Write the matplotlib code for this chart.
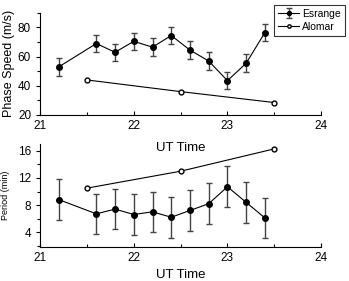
import matplotlib.pyplot as plt
from matplotlib.ticker import MultipleLocator

plt.rcParams['font.family'] = ['Liberation Sans', 'DejaVu Sans']

esr_t = [21.2, 21.6, 21.8, 22.0, 22.2, 22.4, 22.6, 22.8, 23.0, 23.2, 23.4]
esr_speed = [53, 69, 63, 70.5, 66.5, 74.5, 64.5, 57, 43.5, 55.5, 76.5]
esr_speed_err = [6, 6, 6, 6, 6, 6, 6, 6, 6, 6, 6]
esr_period = [8.8, 6.7, 7.4, 6.6, 7.0, 6.2, 7.2, 8.2, 10.7, 8.4, 6.1]
esr_period_err = [3, 3, 3, 3, 3, 3, 3, 3, 3, 3, 3]

alo_t = [21.5, 22.5, 23.5]
alo_speed = [44, 36, 28.5]
alo_period = [10.5, 13.0, 16.3]

fig = plt.figure(figsize=(3.49, 2.81), dpi=100)
ax1 = fig.add_axes([0.115, 0.591, 0.805, 0.363])
ax2 = fig.add_axes([0.115, 0.121, 0.805, 0.366])
ax2.patch.set_visible(False)

for ax in (ax1, ax2):
    ax.spines['top'].set_visible(False)
    ax.spines['right'].set_visible(False)
    ax.set_xlim(21, 24)
    ax.xaxis.set_major_locator(MultipleLocator(1))
    ax.xaxis.set_minor_locator(MultipleLocator(0.5))
    ax.tick_params(labelsize=8.5, length=3, width=0.8)
    ax.tick_params(which='minor', length=2, width=0.8)
    ax.tick_params(axis='x', which='both', direction='in')

ax1.set_xlabel('UT Time', fontsize=9.5, labelpad=7)
ax2.set_xlabel('UT Time', fontsize=9.5, labelpad=4)

h1 = ax1.errorbar(esr_t, esr_speed, yerr=esr_speed_err, color='black', ecolor='#444444',
                  marker='o', ms=4, lw=0.8, elinewidth=1, capsize=2, label='Esrange')
h2, = ax1.plot(alo_t, alo_speed, color='black', marker='o', mfc='white', ms=3.5, lw=0.8,
               label='Alomar')
ax1.set_ylim(20, 90)
ax1.yaxis.set_major_locator(MultipleLocator(20))
ax1.yaxis.set_minor_locator(MultipleLocator(10))
ax1.set_ylabel('Phase Speed (m/s)', fontsize=9, labelpad=2)
leg = ax1.legend([h1, h2], ['Esrange', 'Alomar'], loc='upper left',
                 bbox_to_anchor=(0.833, 1.08), fontsize=7.5, frameon=True,
                 fancybox=False, edgecolor='black', handlelength=2.0, handletextpad=0.3,
                 borderpad=0.4, labelspacing=0.3, markerscale=0.7, borderaxespad=0)
leg.get_frame().set_linewidth(0.8)

ax2.errorbar(esr_t, esr_period, yerr=esr_period_err, color='black', ecolor='#444444',
             marker='o', ms=4, lw=0.8, elinewidth=1, capsize=2)
ax2.plot(alo_t, alo_period, color='black', marker='o', mfc='white', ms=3.5, lw=0.8)
ax2.set_ylim(1.8, 17)
ax2.yaxis.set_major_locator(MultipleLocator(4))
ax2.yaxis.set_minor_locator(MultipleLocator(2))
ax2.set_ylabel('Period (min)', fontsize=6.5, labelpad=6)

fig.savefig('out.png', dpi=100)
